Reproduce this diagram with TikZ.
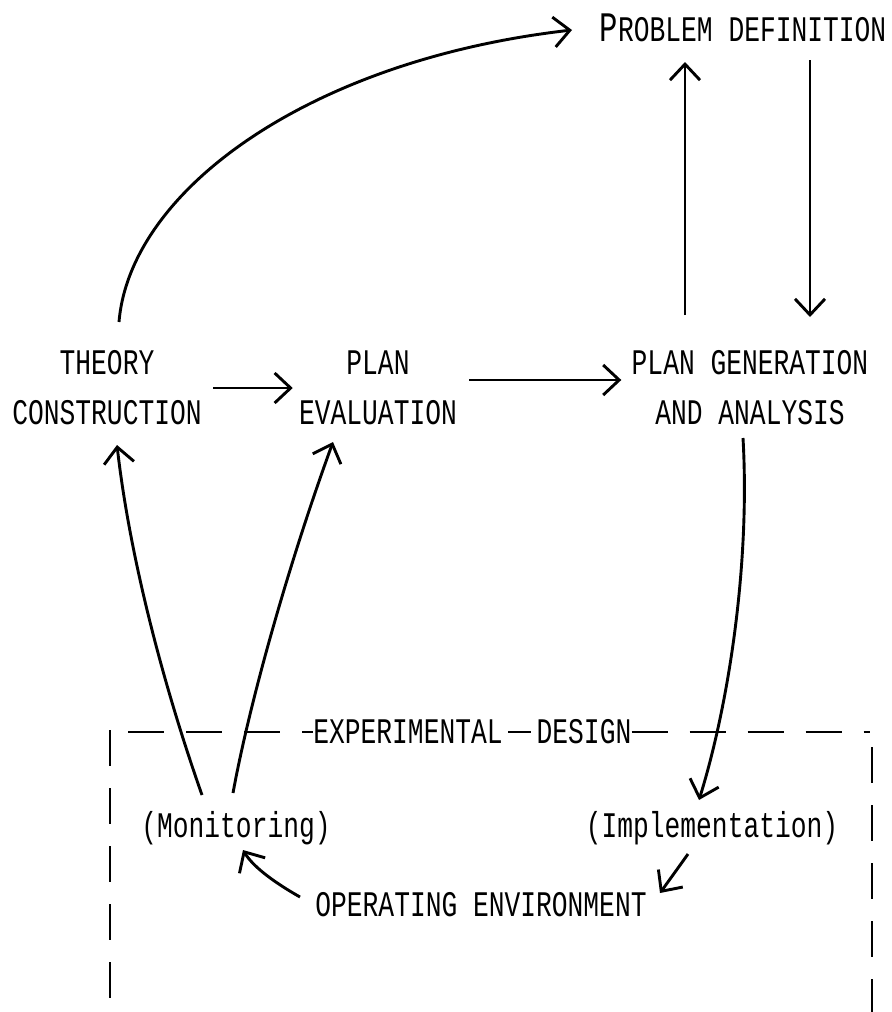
\documentclass[tikz,border=0pt]{standalone}
\usepackage{fontspec}
\newfontfamily\tw[FakeStretch=0.73]{Liberation Mono}
\usetikzlibrary{arrows.meta}
\begin{document}
\begin{tikzpicture}[x=0.5pt,y=-0.5pt,
  lbl/.style={font=\tw\fontsize{18}{25}\selectfont, inner sep=0pt, align=center},
  arr/.style={line width=1.45pt, -{Straight Barb[length=8pt,width=15pt]}},
  boxline/.style={line width=1.15pt, dash pattern=on 18pt off 11pt}]
\useasboundingbox (0,0) rectangle (891,1012);

% nodes
\node[lbl] (pd) at (743,28) {{\fontsize{21}{25}\selectfont P}ROBLEM DEFINITION};
\node[lbl] (theory) at (107,388) {THEORY\\CONSTRUCTION};
\node[lbl] (plan) at (378,388) {PLAN\\EVALUATION};
\node[lbl] (plangen) at (750,388) {PLAN GENERATION\\AND ANALYSIS};
\node[lbl,anchor=base] (mon) at (236,837) {(Monitoring)};
\node[lbl,anchor=base] (impl) at (712,837) {(Implementation)};
\node[lbl] (openv) at (481,905) {OPERATING ENVIRONMENT};
\node[lbl] (exp1) at (408,732) {EXPERIMENTAL};
\node[lbl] (exp2) at (584,732) {DESIGN};

% connector end points
\coordinate (tcs) at (119,322);
\coordinate (pdw) at (572,30);
\coordinate (u0) at (685,315);
\coordinate (u1) at (685,62);
\coordinate (d0) at (810,60);
\coordinate (d1) at (810,317);
\coordinate (a0) at (743,438);
\coordinate (a1) at (699,800);
\coordinate (m1) at (202,795);
\coordinate (m2) at (233,793);
\coordinate (t1) at (117,445);
\coordinate (e1) at (333,442);
\coordinate (i0) at (688,854);
\coordinate (i1) at (660,893);
\coordinate (o0) at (300,897);
\coordinate (o1) at (243,850);

% connectors
\draw[arr] (tcs) .. controls (130,190) and (310,60) .. (pdw);
\draw[arr] (u0) -- (u1);
\draw[arr] (d0) -- (d1);
\draw[arr, shorten <=5.5pt, shorten >=3pt] (theory) -- (plan);
\draw[arr, shorten <=6pt, shorten >=5pt] ([yshift=4pt]plan.east) -- ([yshift=4pt]plan.east -| plangen.west);
\draw[arr] (a0) .. controls (750,560) and (730,700) .. (a1);
\draw[arr] (m1) .. controls (165,690) and (130,560) .. (t1);
\draw[arr] (m2) .. controls (250,700) and (290,560) .. (e1);
\draw[arr] (i0) .. controls (678,868) .. (i1);
\draw[arr] (o0) .. controls (270,880) and (252,865) .. (o1);

% dashed frame
\draw[boxline] (110,730) -- (110,1012);
\draw[boxline] (872,747) -- (872,1012);
\draw[boxline] (128,732) -- (exp1.west);
\draw[line width=1.15pt] ([xshift=2.5pt]exp1.east) -- ([xshift=-2.5pt]exp2.west);
\draw[boxline] (exp2.east) -- (870,732);
\end{tikzpicture}
\end{document}
